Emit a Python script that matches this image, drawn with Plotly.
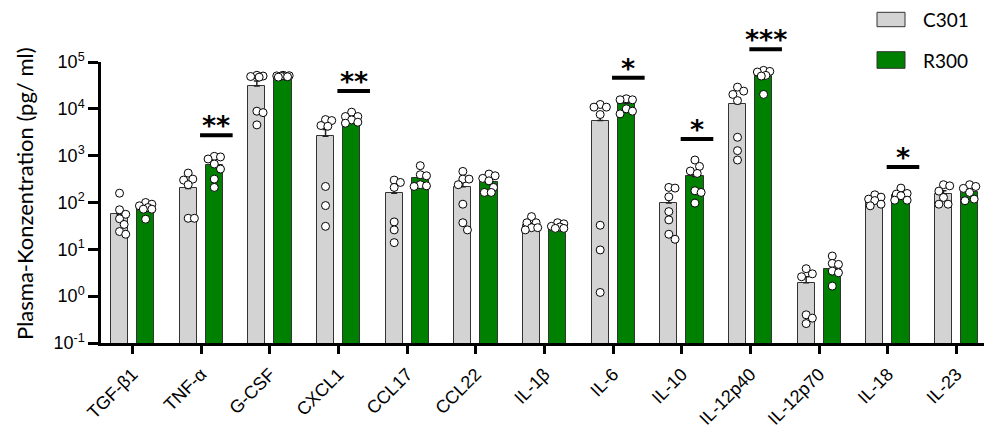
import math
import numpy as np
import plotly.graph_objects as go

# ---- data -------------------------------------------------------------
categories = ["TGF-β1", "TNF-α", "G-CSF", "CXCL1", "CCL17", "CCL22", "IL-1β",
              "IL-6", "IL-10", "IL-12p40", "IL-12p70", "IL-18", "IL-23"]

c301_mean = [56, 200, 30600, 2600, 158, 217, 32.7, 5620, 97, 12800, 1.93, 112, 151]
r300_mean = [82, 631, 49300, 5620, 332, 277, 30.6, 13200, 361, 53500, 3.86, 146, 164]

c301_points = [
    [158, 70, 56, 45, 34, 24, 21],
    [425, 316, 301, 240, 46, 46],
    [52000, 50100, 49000, 47500, 8900, 8300, 4540],
    [5900, 5620, 4400, 4250, 220, 86, 31],
    [301, 268, 210, 38.5, 26, 13.9],
    [461, 316, 316, 240, 92, 37, 26],
    [50, 37, 37, 29, 29, 26],
    [12400, 10870, 10870, 7570, 32.7, 9.7, 1.2],
    [210, 203, 132, 64, 42.5, 21, 16.4],
    [29100, 23900, 20300, 15000, 2470, 1280, 807],
    [3.86, 3.0, 2.6, 0.40, 0.34, 0.26],
    [146, 130, 118, 110, 92, 85],
    [240, 227, 175, 128, 92, 92],
]
r300_points = [
    [100, 92, 85, 78, 72, 72, 44],
    [968, 940, 849, 663, 518, 316, 210],
    [52000, 51000, 50500, 50000, 49500, 48500, 47500],
    [8490, 6850, 6850, 5800, 5180, 4930],
    [611, 392, 372, 240, 227, 220],
    [405, 372, 327, 290, 210, 164, 164],
    [37, 35, 31, 30, 28, 28],
    [16400, 15600, 15600, 10000, 8910, 7810],
    [807, 590, 470, 418, 178, 164, 97],
    [66300, 63000, 61100, 51800, 50100, 20300],
    [7.2, 5.0, 4.77, 3.43, 3.16, 1.64],
    [203, 156, 151, 140, 112, 112],
    [240, 220, 200, 164, 118, 109],
]

# significance brackets: (category index, label)
sig_idx = [1, 3, 7, 8, 9, 11]
sig_txt = ["**", "**", "*", "*", "***", "*"]

y_tickvals = [0.1, 1, 10, 100, 1000, 10000, 100000]
y_ticktext = ["10<sup>-1</sup>", "10<sup>0</sup>", "10<sup>1</sup>", "10<sup>2</sup>",
              "10<sup>3</sup>", "10<sup>4</sup>", "10<sup>5</sup>"]

y_title = "Plasma-Konzentration (pg/ ml)"

# ---- layout geometry ---------------------------------------------------
W, H = 984, 432
M_L, M_R, M_T, M_B = 101, 0, 62, 89
PLOT_W = W - M_L - M_R
PLOT_H = H - M_T - M_B
X_LO, X_HI = -0.46, 12.40
Y_LO, Y_HI = -1, 5
PX_PER_UNIT = PLOT_W / (X_HI - X_LO)
PX_PER_DEC = PLOT_H / (Y_HI - Y_LO)

OFFSET = 0.19
BAR_W = 0.25
GRAY = "#D3D3D3"
GREEN = "#008000"
MARK_D = 8


def sem(vals):
    a = np.asarray(vals, dtype=float)
    return float(a.std(ddof=1) / math.sqrt(len(a)))


def swarm(vals, d=MARK_D):
    """Horizontal offsets (axis units) that keep the dots from piling up."""
    ys = [(Y_HI - math.log10(v)) * PX_PER_DEC for v in vals]
    order = sorted(range(len(vals)), key=lambda k: ys[k])
    cands = [0, 4.6, -4.6, 2.3, -2.3, 6.2, -6.2]
    placed, offs = [], [0.0] * len(vals)
    for k in order:
        best, best_gap = 0, -1
        for c in cands:
            gap = min((math.hypot(c - px, ys[k] - py) for px, py in placed),
                      default=1e9)
            if gap >= 0.9 * d:
                best = c
                break
            if gap > best_gap:
                best_gap, best = gap, c
        offs[k] = best
        placed.append((best, ys[k]))
    return [o / PX_PER_UNIT for o in offs]


fig = go.Figure()

groups = [
    ("C301", GRAY, -OFFSET, c301_mean, c301_points),
    ("R300", GREEN, OFFSET, r300_mean, r300_points),
]

for name, color, off, means, pts in groups:
    xs = [i + off for i in range(len(categories))]
    fig.add_trace(go.Bar(
        x=xs, y=means, width=BAR_W, name=name,
        marker=dict(color=color, line=dict(color="#333333", width=1)),
        error_y=dict(type="data", symmetric=False,
                     array=[sem(p) for p in pts],
                     arrayminus=[0] * len(pts),
                     color="#222222", thickness=1.5, width=3),
        showlegend=False,
    ))

for name, color, off, means, pts in groups:
    px, py = [], []
    for i, vals in enumerate(pts):
        for dx, v in zip(swarm(vals), vals):
            px.append(i + off + dx)
            py.append(v)
    fig.add_trace(go.Scatter(
        x=px, y=py, mode="markers", showlegend=False, cliponaxis=False,
        marker=dict(size=MARK_D, color="white",
                    line=dict(color="black", width=1)),
    ))


def to_paper(log_v):
    return (log_v - Y_LO) / (Y_HI - Y_LO)


def px_x(p):
    return (p - M_L) / PLOT_W


def px_y(p):
    return (H - M_B - p) / PLOT_H


shapes, annotations = [], []
half = 16.3 / PX_PER_UNIT
for idx, label in zip(sig_idx, sig_txt):
    xc = idx + OFFSET + 0.03
    yl = to_paper(math.log10(max(r300_points[idx])) + 0.45)
    shapes.append(dict(type="line", xref="x", yref="paper",
                       x0=xc - half, x1=xc + half, y0=yl, y1=yl,
                       line=dict(color="black", width=4)))
    annotations.append(dict(x=xc, y=yl, xref="x", yref="paper",
                            text="<b>" + label + "</b>", showarrow=False,
                            xanchor="center", yanchor="bottom", yshift=-8,
                            font=dict(family="DejaVu Sans", size=27,
                                      color="black")))

# legend drawn as swatches + labels in the top-right corner
legend_rows = [("C301", GRAY, 12.3, 26.7), ("R300", GREEN, 51.7, 68.3)]
for label, color, top, bot in legend_rows:
    shapes.append(dict(type="rect", xref="paper", yref="paper",
                       x0=px_x(877), x1=px_x(905), y0=px_y(bot), y1=px_y(top),
                       fillcolor=color, line=dict(color="#333333", width=1)))
    annotations.append(dict(x=px_x(921), y=px_y((top + bot) / 2),
                            xref="paper", yref="paper", text=label,
                            showarrow=False, xanchor="left", yanchor="middle",
                            font=dict(family="Lato", size=19, color="black")))

# y-axis title
annotations.append(dict(x=px_x(24), y=px_y(194), xref="paper", yref="paper",
                        text=y_title, textangle=-90, showarrow=False,
                        xanchor="center", yanchor="middle",
                        font=dict(family="Lato", size=22, color="black")))

fig.update_layout(
    width=W, height=H,
    margin=dict(l=M_L, r=M_R, t=M_T, b=M_B, autoexpand=False),
    plot_bgcolor="white", paper_bgcolor="white",
    bargap=0, barmode="overlay",
    shapes=shapes, annotations=annotations,
    xaxis=dict(
        range=[X_LO, X_HI], tickmode="array",
        tickvals=list(range(len(categories))), ticktext=categories,
        tickangle=-45, ticks="outside", ticklen=8, tickwidth=2.5,
        tickcolor="black", showline=True, linewidth=2.5, linecolor="black",
        showgrid=False, zeroline=False, ticklabelstandoff=3,
        tickfont=dict(family="Liberation Sans, Arial", size=18, color="black"),
    ),
    yaxis=dict(
        type="log", range=[Y_LO, Y_HI], tickmode="array",
        tickvals=y_tickvals, ticktext=y_ticktext,
        ticks="outside", ticklen=10, tickwidth=2.5, tickcolor="black",
        showline=True, linewidth=2.5, linecolor="black",
        showgrid=False, zeroline=False,
        tickfont=dict(family="Liberation Sans, Arial", size=18, color="black"),
    ),
)

fig.write_html("out.html")
